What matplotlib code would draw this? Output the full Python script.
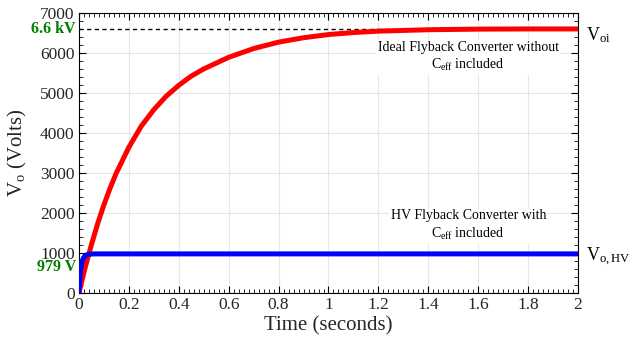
import matplotlib
matplotlib.use("Agg")
import matplotlib.pyplot as plt
from matplotlib.ticker import MultipleLocator

plt.rcParams['font.family'] = ['Liberation Serif', 'DejaVu Serif']
plt.rcParams['mathtext.fontset'] = 'custom'
plt.rcParams['mathtext.rm'] = 'Liberation Serif'
plt.rcParams['mathtext.it'] = 'Liberation Serif'

# values
t_ideal = [0, 0.0125, 0.025, 0.05, 0.075, 0.1, 0.125, 0.15, 0.2, 0.25, 0.3, 0.35, 0.4,
           0.45, 0.5, 0.6, 0.7, 0.8, 0.9, 1.0, 1.1, 1.2, 1.4, 1.6, 1.8, 2.0]
v_ideal = [0, 320, 630, 1200, 1730, 2200, 2620, 3000, 3640, 4170, 4580, 4920, 5190,
           5420, 5600, 5890, 6110, 6270, 6380, 6460, 6510, 6545, 6580, 6595, 6600, 6600]
t_hv = [0, 0.002, 0.004, 0.006, 0.008, 0.01, 0.014, 0.018, 0.024, 0.03, 0.04, 0.06, 2.0]
v_hv = [0, 220, 390, 520, 620, 700, 810, 875, 925, 950, 970, 979, 979]
v_oi = 6600
v_ohv = 979

fig = plt.figure(figsize=(6.36, 3.4), dpi=100)
ax = fig.add_axes([0.124, 0.138, 0.785, 0.824])

ax.axhline(v_oi, color='black', linestyle=(0, (3, 2.5)), linewidth=1, zorder=2)
ax.plot(t_ideal, v_ideal, color='red', linewidth=3.6, zorder=3)
ax.plot(t_hv, v_hv, color='blue', linewidth=3.6, zorder=4, solid_capstyle='butt')

ax.set_xlim(0, 2)
ax.set_ylim(0, 7000)
ax.xaxis.set_minor_locator(MultipleLocator(0.02))
ax.yaxis.set_major_locator(MultipleLocator(1000))
ax.yaxis.set_minor_locator(MultipleLocator(200))
ax.set_xticks([0, 0.2, 0.4, 0.6, 0.8, 1, 1.2, 1.4, 1.6, 1.8, 2])
ax.set_xticklabels(['0', '0.2', '0.4', '0.6', '0.8', '1', '1.2', '1.4', '1.6', '1.8', '2'])
ax.tick_params(which='both', direction='in', top=True, right=True, labelsize=12.5,
               pad=3, labelcolor='#262626')
ax.tick_params(which='major', length=5)
ax.tick_params(which='minor', length=3)
ax.grid(True, which='major', color='#e6e6e6', linewidth=0.8)
ax.set_axisbelow(True)

ax.set_xlabel('Time (seconds)', fontsize=15, labelpad=2, color='#262626')
ax.set_ylabel(r'V$_{\mathrm{o}}$ (Volts)', fontsize=15, labelpad=8, color='#262626')

ax.text(-0.012, v_oi, '6.6 kV', color='green', fontweight='bold', fontsize=11.5,
        ha='right', va='center')
ax.text(-0.012, 640, '979 V', color='green', fontweight='bold', fontsize=11.5,
        ha='right', va='center')

ax.text(2.03, 6450, r'V$_{\mathrm{oi}}$', fontsize=13, ha='left', va='center')
ax.text(2.03, 900, r'V$_{\mathrm{o,HV}}$', fontsize=13, ha='left', va='center')

box = dict(facecolor='white', edgecolor='none', pad=1)
ax.text(1.56, 5900, 'Ideal Flyback Converter without\n' + r'C$_{\mathrm{eff}}$ included',
        fontsize=10, ha='center', va='center', linespacing=1.3, bbox=box, zorder=5)
ax.text(1.56, 1680, 'HV Flyback Converter with\n' + r'C$_{\mathrm{eff}}$ included',
        fontsize=10, ha='center', va='center', linespacing=1.3, bbox=box, zorder=5)

fig.savefig('out.png', dpi=100)
